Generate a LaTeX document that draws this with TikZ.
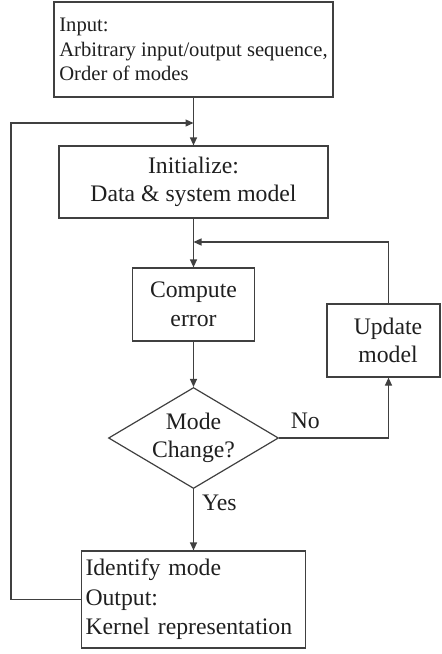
\documentclass[tikz,border=0pt]{standalone}
\usepackage{fontspec}
\setmainfont{Liberation Serif}
\usetikzlibrary{arrows.meta,shapes.geometric,calc}

\colorlet{ln}{black!75}
\colorlet{tx}{black!88}
\newcommand\bodysz{\fontsize{23.7}{28.5}\selectfont}
\newcommand\identsz{\fontsize{23.7}{29.5}\selectfont}
\newcommand\inputsz{\fontsize{20.6}{24.7}\selectfont}

\tikzset{
  box/.style={draw=ln, line width=1.2pt, rectangle, inner xsep=4pt, inner ysep=0pt,
              text=tx, font=\bodysz, align=center},
  decision/.style={draw=ln, line width=1.2pt, diamond, aspect=1.68, inner sep=0pt,
              minimum width=170pt, minimum height=101pt, text=tx, font=\bodysz, align=center},
  conn/.style={draw=ln, line width=1.2pt, -{Triangle[length=8pt,width=7pt]}},
  lbl/.style={text=tx, font=\bodysz, inner sep=0pt},
}

\begin{document}
\begin{tikzpicture}[x=1pt,y=-1pt]
\useasboundingbox (0,0) rectangle (442,654);

% process boxes
\node[box, minimum width=279pt, minimum height=95pt, align=left,
      font=\inputsz] (inp) at (193.5,49.5)
      {Input:\\Arbitrary input/output sequence,\\Order of modes};
\node[box, minimum width=269pt, minimum height=72pt] (init) at (193.5,182)
      {Initialize:\\Data \& system model};
\node[box, minimum width=122pt, minimum height=73pt] (comp) at (193.5,304.5)
      {Compute\\error};
\node[box, minimum width=113pt, minimum height=73pt,
      label={[lbl, align=center, xshift=4.5pt]center:Update\\model}] (upd) at (383.5,340.5) {};
\node[decision] (dia) at (193.5,438) {Mode\\Change?};
\node[box, minimum width=224pt, minimum height=97pt, text width=216pt, align=left,
      font=\identsz] (ident) at (193.5,599.5)
      {Identify mode\\Output:\\Kernel representation};

% junction points on the main line
\coordinate (joinA) at (193.5,123);
\coordinate (joinB) at (193.5,242);

% connectors
\draw[conn] (inp.south) -- (init.north);
\draw[conn] (init.south) -- (comp.north);
\draw[conn] (comp.south) -- (dia.north);
\draw[conn] (dia.south) -- (ident.north)
      node[lbl, pos=0.355, anchor=base west, xshift=8pt] {Yes};
\draw[conn] (dia.east) -| ($(upd.south)+(5,0)$)
      node[lbl, pos=0.12, anchor=base, yshift=10pt] {No};
\draw[conn] ($(upd.north)+(5,0)$) |- (joinB);
\draw[conn] (ident.west) -- ++(-70,0) |- (joinA);
\end{tikzpicture}
\end{document}
